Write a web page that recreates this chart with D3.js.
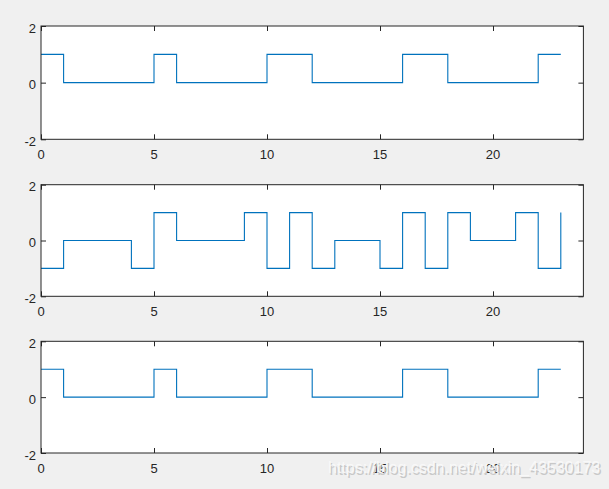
<!DOCTYPE html>
<html>
<head>
<meta charset="utf-8">
<script src="https://cdn.jsdelivr.net/npm/d3@7"></script>
<style>
  html, body { margin: 0; padding: 0; background: #f0f0f0; }
  svg { display: block; }
</style>
</head>
<body>
<script>
// ---- data ----
const xValues = d3.range(0, 24); // 0..23
const series1 = [1,0,0,0,0,1,0,0,0,0,1,1,0,0,0,0,1,1,0,0,0,0,1,1];
const series2 = [-1,0,0,0,-1,1,0,0,0,1,-1,1,-1,0,0,-1,1,-1,1,0,0,1,-1,1];
const series3 = [1,0,0,0,0,1,0,0,0,0,1,1,0,0,0,0,1,1,0,0,0,0,1,1];
const xTicks = [0, 5, 10, 15, 20];
const yTicks = [-2, 0, 2];
const xDomain = [0, 24];
const yDomain = [-2, 2];
const watermark = "https://blog.csdn.net/weixin_43530173";

const W = 609, H = 489;
const svg = d3.select("body").append("svg").attr("width", W).attr("height", H);
svg.append("rect").attr("width", W).attr("height", H).attr("fill", "#f0f0f0");

const panels = [
  { data: series1, top: 26, bottom: 139.3 },
  { data: series2, top: 184.7, bottom: 296.3 },
  { data: series3, top: 341.3, bottom: 453 }
];
const left = 41, right = 583.4;
const axisColor = "#262626";
const tickLen = 5;
const font = "Liberation Sans, Arial, Helvetica, sans-serif";

panels.forEach(p => {
  const x = d3.scaleLinear().domain(xDomain).range([left, right]);
  const y = d3.scaleLinear().domain(yDomain).range([p.bottom, p.top]);
  const g = svg.append("g");

  g.append("rect")
    .attr("x", left).attr("y", p.top)
    .attr("width", right - left).attr("height", p.bottom - p.top)
    .attr("fill", "#ffffff");

  // data line (stairs)
  const line = d3.line()
    .x((d, i) => x(xValues[i]))
    .y(d => y(d))
    .curve(d3.curveStepAfter);
  g.append("path")
    .datum(p.data)
    .attr("d", line)
    .attr("fill", "none")
    .attr("stroke", "#0072BD")
    .attr("stroke-width", 1.1);

  // x ticks (bottom & top, inward)
  const xAxisB = d3.axisBottom(x).tickValues(xTicks).tickSize(-tickLen).tickPadding(0).tickFormat("");
  const xAxisT = d3.axisTop(x).tickValues(xTicks).tickSize(-tickLen).tickFormat("");
  const yAxisL = d3.axisLeft(y).tickValues(yTicks).tickSize(-tickLen).tickFormat("");
  const yAxisR = d3.axisRight(y).tickValues(yTicks).tickSize(-tickLen).tickFormat("");

  [[xAxisB, `translate(0,${p.bottom})`], [xAxisT, `translate(0,${p.top})`],
   [yAxisL, `translate(${left},0)`], [yAxisR, `translate(${right},0)`]].forEach(([ax, tr]) => {
    const a = g.append("g").attr("transform", tr).call(ax);
    a.select(".domain").remove();
    a.selectAll("line").attr("stroke", axisColor).attr("stroke-width", 1);
  });

  // box
  g.append("rect")
    .attr("x", left).attr("y", p.top)
    .attr("width", right - left).attr("height", p.bottom - p.top)
    .attr("fill", "none")
    .attr("stroke", axisColor)
    .attr("stroke-width", 1);

  // x tick labels
  g.selectAll(".xl").data(xTicks).enter().append("text")
    .attr("x", d => x(d))
    .attr("y", p.bottom + 20)
    .attr("text-anchor", "middle")
    .attr("font-family", font)
    .attr("font-size", 13)
    .attr("fill", axisColor)
    .text(d => d);

  // y tick labels
  g.selectAll(".yl").data(yTicks).enter().append("text")
    .attr("x", left - 5)
    .attr("y", d => y(d) + 6.5)
    .attr("text-anchor", "end")
    .attr("font-family", font)
    .attr("font-size", 13)
    .attr("fill", axisColor)
    .text(d => d);
});

// watermark
svg.append("text")
  .attr("x", 329.5).attr("y", 474.5)
  .attr("font-family", font)
  .attr("font-size", 16)
  .attr("fill", "#c8c8c8")
  .text(watermark);
svg.append("text")
  .attr("x", 328).attr("y", 473)
  .attr("font-family", font)
  .attr("font-size", 16)
  .attr("fill", "#fafafa")
  .attr("fill-opacity", 0.9)
  .text(watermark);
</script>
</body>
</html>
